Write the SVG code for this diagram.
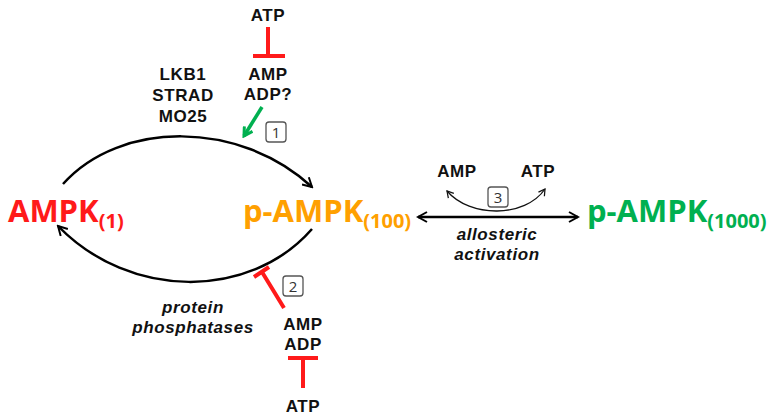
<svg xmlns="http://www.w3.org/2000/svg" width="775" height="417" viewBox="0 0 775 417">
<defs>
<style>
text{font-family:"Open Sans","DejaVu Sans",sans-serif;}
.lbl{font-family:"Liberation Sans",Arial,sans-serif;font-size:17px;font-weight:700;fill:#111;text-anchor:middle;letter-spacing:0.6px;}
.it{font-family:"Liberation Sans",Arial,sans-serif;font-size:17px;font-weight:700;font-style:italic;fill:#111;text-anchor:middle;letter-spacing:0.6px;}
.big{font-size:31px;font-weight:700;}
.sub{font-size:20px;font-weight:700;}
.num{font-size:15px;fill:#333;text-anchor:middle;}
.conn{fill:none;stroke:#000;stroke-width:2.5;}
.thin{fill:none;stroke:#111;stroke-width:1.3;}
.inh{fill:none;stroke:#ff1a1a;stroke-width:4;}
.box{fill:#fff;stroke:#555;stroke-width:1.3;}
</style>
<marker id="ah" viewBox="0 0 12 12" refX="10" refY="6" markerWidth="12" markerHeight="12" markerUnits="userSpaceOnUse" orient="auto-start-reverse">
<path d="M1,1 L10,6 L1,11" fill="none" stroke="#000" stroke-width="2"/>
</marker>
<marker id="ahs" viewBox="0 0 10 10" refX="8" refY="5" markerWidth="9" markerHeight="9" markerUnits="userSpaceOnUse" orient="auto-start-reverse">
<path d="M1,1 L8,5 L1,9" fill="none" stroke="#111" stroke-width="1.4"/>
</marker>
<marker id="ahg" viewBox="0 0 10 10" refX="8" refY="5" markerWidth="12" markerHeight="12" markerUnits="userSpaceOnUse" orient="auto">
<path d="M1,1 L8,5 L1,9" fill="none" stroke="#00b050" stroke-width="2.5"/>
</marker>
</defs>

<g id="connectors">
<path class="conn" d="M63,184 C120,120 240,120 312,187" marker-end="url(#ah)"/>
<path class="conn" d="M312,229 C250,300 130,300 58,226" marker-end="url(#ah)"/>
<path class="conn" d="M418,217 L578,217" marker-start="url(#ah)" marker-end="url(#ah)"/>
<path class="thin" d="M447,191 C470,218 525,218 545,189" marker-start="url(#ahs)" marker-end="url(#ahs)"/>
<path d="M262,107 L244,136" fill="none" stroke="#00b050" stroke-width="3.5" marker-end="url(#ahg)"/>
<path class="inh" d="M268,27 L268,56 M253,56 L285,56"/>
<path class="inh" d="M284,308 L262,272 M254,277 L269,267"/>
<path class="inh" d="M303,388 L303,358 M288,358 L318,358"/>
</g>

<g id="ampk1">
<text x="8" y="222" class="big" fill="#ff1a1a">AMPK<tspan class="sub" dy="6">(1)</tspan></text>
</g>
<g id="pampk100">
<text x="243" y="222" class="big" fill="#ffa000">p-AMPK<tspan class="sub" dy="6">(100)</tspan></text>
</g>
<g id="pampk1000">
<text x="587" y="222" class="big" fill="#00b050">p-AMPK<tspan class="sub" dy="6">(1000)</tspan></text>
</g>

<g id="kinases">
<text class="lbl" x="183" y="80">LKB1</text>
<text class="lbl" x="183" y="101">STRAD</text>
<text class="lbl" x="183" y="122">MO25</text>
</g>
<g id="top-atp"><text class="lbl" x="268" y="21">ATP</text></g>
<g id="top-amp">
<text class="lbl" x="268" y="80">AMP</text>
<text class="lbl" x="268" y="100">ADP?</text>
</g>
<g id="box1"><rect class="box" x="266" y="122" width="20" height="20" rx="3"/><text class="num" x="276" y="137.5">1</text></g>

<g id="phosphatases">
<text class="it" x="193" y="313">protein</text>
<text class="it" x="193" y="333">phosphatases</text>
</g>
<g id="box2"><rect class="box" x="283" y="276" width="20" height="20" rx="3"/><text class="num" x="293" y="291.5">2</text></g>
<g id="bot-amp">
<text class="lbl" x="303" y="330">AMP</text>
<text class="lbl" x="303" y="350">ADP</text>
</g>
<g id="bot-atp"><text class="lbl" x="303" y="412">ATP</text></g>

<g id="allo-amp"><text class="lbl" x="457" y="177">AMP</text></g>
<g id="allo-atp"><text class="lbl" x="538" y="177">ATP</text></g>
<g id="box3"><rect class="box" x="488" y="187" width="20" height="20" rx="3"/><text class="num" x="498" y="202.5">3</text></g>
<g id="allosteric">
<text class="it" x="497" y="240">allosteric</text>
<text class="it" x="497" y="260">activation</text>
</g>
</svg>
